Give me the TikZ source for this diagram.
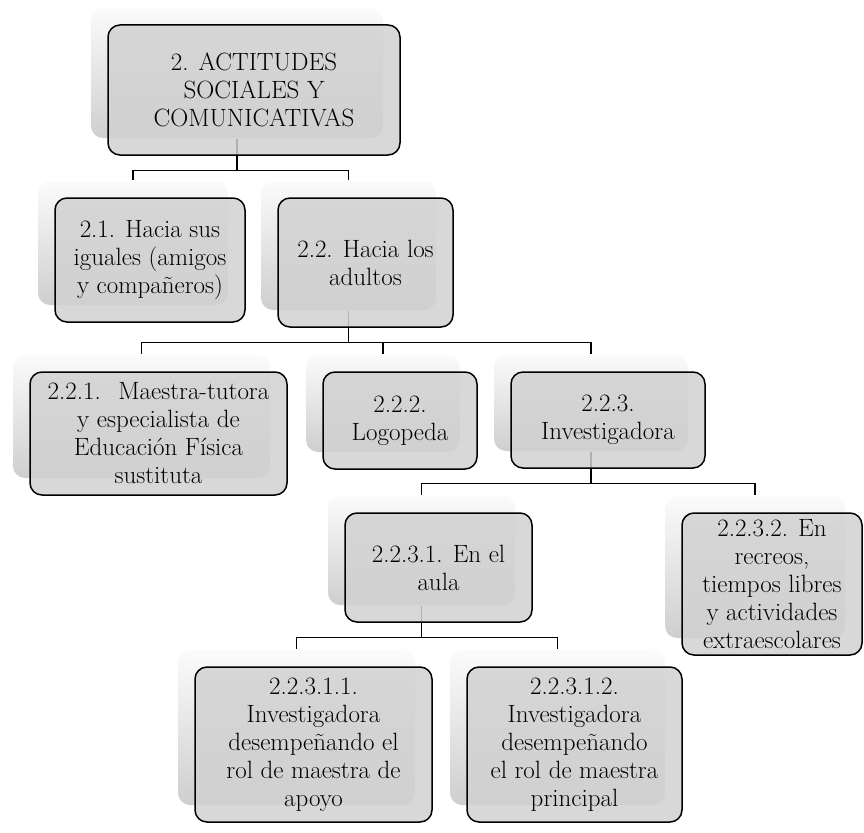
\documentclass[tikz,border=0pt]{standalone}
\usepackage{fontspec}
\setmainfont{Latin Modern Roman}
\usepackage{tikz}
\usetikzlibrary{calc,shadows,backgrounds}

\tikzset{
  cajon/.style={draw=black, line width=1.5pt, rounded corners=12pt, fill=gray!36,
    fill opacity=0.85, text opacity=1, align=center, inner sep=2pt,
    font=\fontsize{25}{28}\selectfont,
    general shadow={shadow xshift=-17pt, shadow yshift=17pt, fill opacity=1,
      top color=gray!3, bottom color=gray!38}},
  enlace/.style={black, line width=1.1pt}
}
\newcommand{\enlazar}[2]{\draw[enlace] ($(#1.south)+(-17,-17)$) -- ++(0,32) -| ($(#2.north)+(-17,-17)$);}

\begin{document}
\begin{tikzpicture}[x=1pt,y=-1pt]
	\useasboundingbox (0,0) rectangle (864,832);
	\node[cajon, minimum width=292pt, minimum height=130pt] (raiz) at (254,90) {2. ACTITUDES\\SOCIALES Y\\COMUNICATIVAS};
	\node[cajon, minimum width=190pt, minimum height=124pt] (iguales) at (150,260) {2.1. Hacia sus\\iguales (amigos\\y compañeros)};
	\node[cajon, minimum width=175pt, minimum height=129pt] (adultos) at (365.5,262.5) {2.2. Hacia los\\adultos};
	\node[cajon, minimum width=257pt, minimum height=123pt] (tutora) at (158.5,433.5) {2.2.1.~ Maestra-tutora\\y especialista de\\Educación Física\\sustituta};
	\node[cajon, minimum width=154pt, minimum height=97pt] (logopeda) at (400,420.5) {2.2.2.\\Logopeda};
	\node[cajon, minimum width=194pt, minimum height=96pt] (invest) at (608,420) {2.2.3.\\Investigadora};
	\node[cajon, minimum width=187pt, minimum height=109pt] (aula) at (438.5,567.5) {2.2.3.1. En el\\aula};
	\node[cajon, minimum width=180pt, minimum height=142pt] (recreos) at (772,584) {2.2.3.2. En\\recreos,\\tiempos libres\\y actividades\\extraescolares};
	\node[cajon, minimum width=237pt, minimum height=155pt] (apoyo) at (313.5,744.5) {2.2.3.1.1.\\Investigadora\\desempeñando el\\rol de maestra de\\apoyo};
	\node[cajon, minimum width=215pt, minimum height=155pt] (principal) at (574.5,744.5) {2.2.3.1.2.\\Investigadora\\desempeñando\\el rol de maestra\\principal};
	\begin{scope}[on background layer]
		\enlazar{raiz}{iguales}
		\enlazar{raiz}{adultos}
		\enlazar{adultos}{tutora}
		\enlazar{adultos}{logopeda}
		\enlazar{adultos}{invest}
		\enlazar{invest}{aula}
		\enlazar{invest}{recreos}
		\enlazar{aula}{apoyo}
		\enlazar{aula}{principal}
	\end{scope}
\end{tikzpicture}
\end{document}
